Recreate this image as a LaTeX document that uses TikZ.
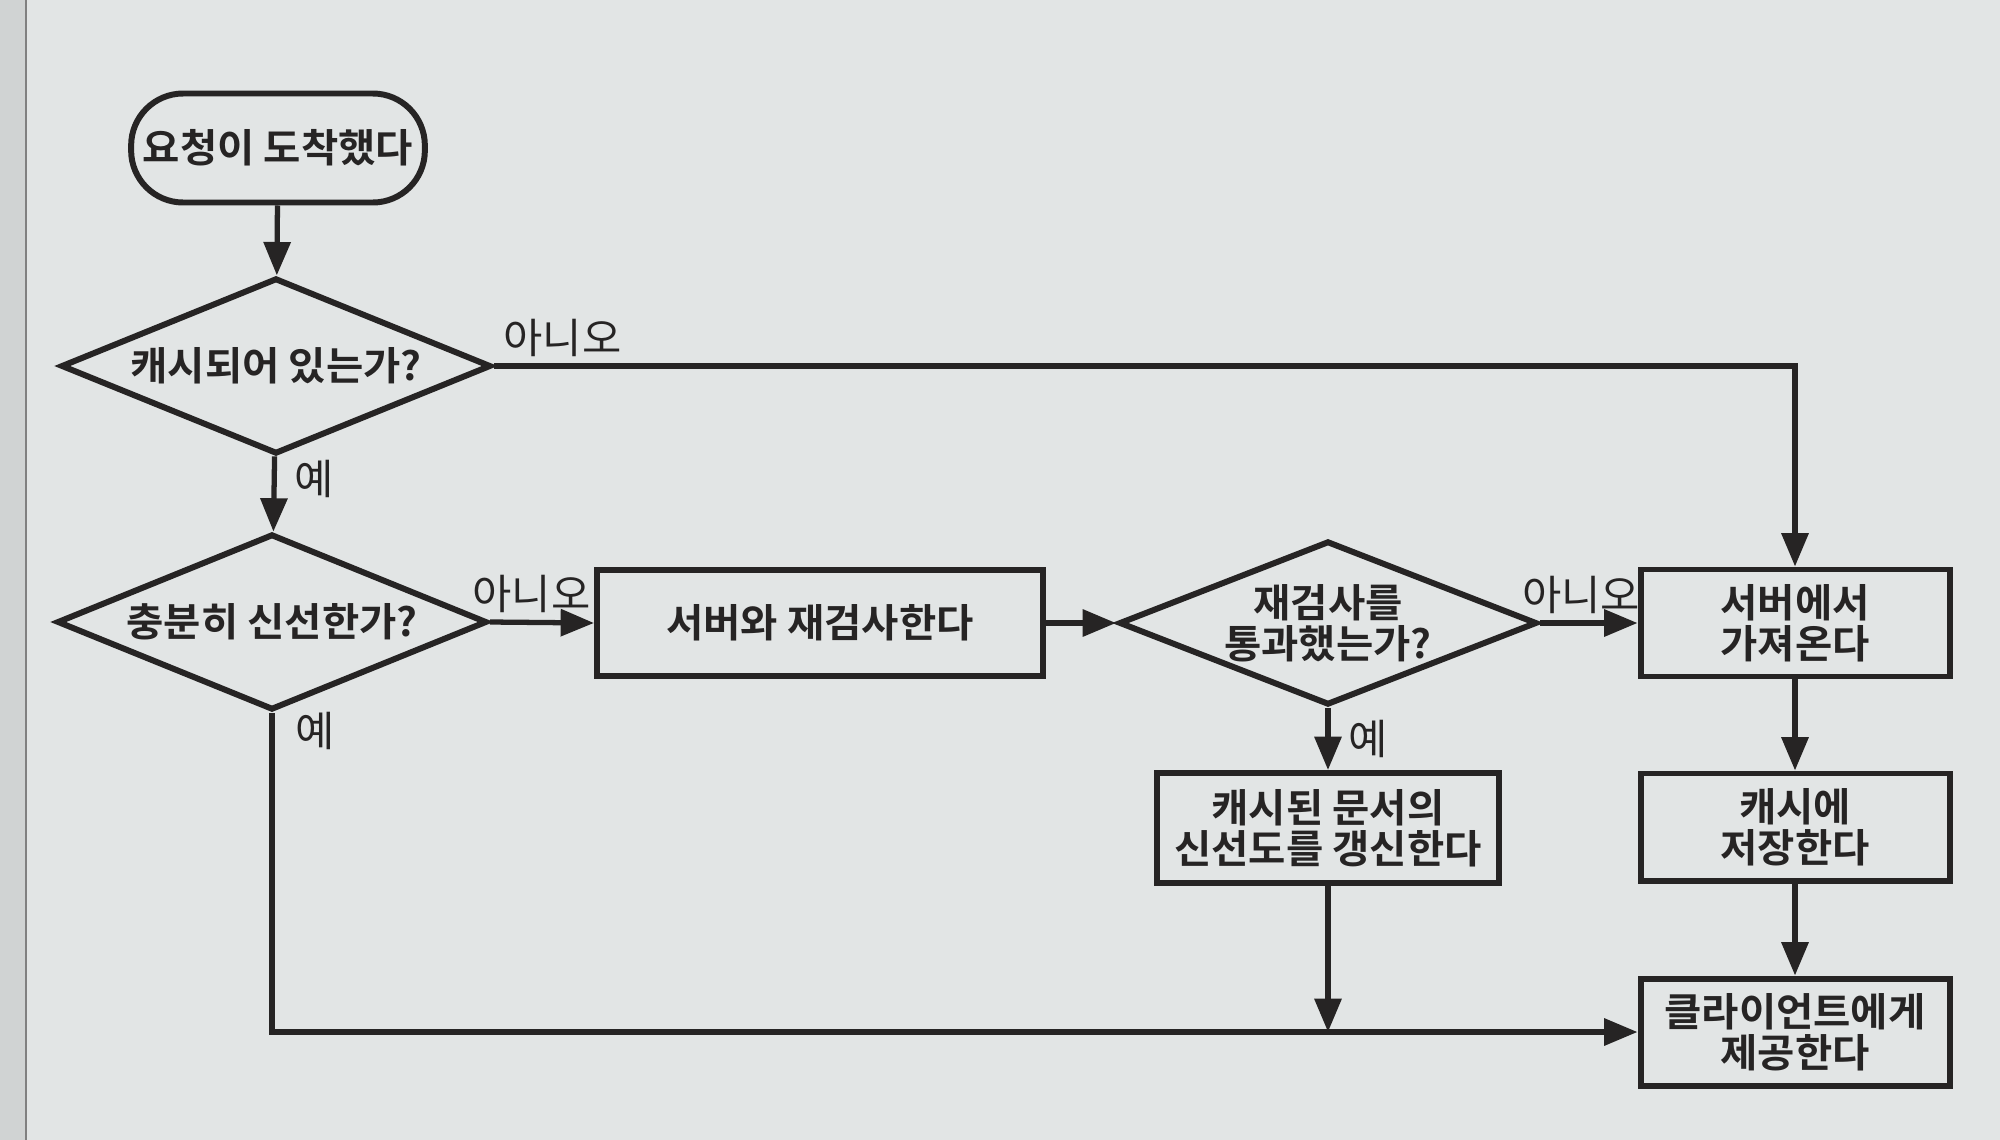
\documentclass[tikz,border=0pt]{standalone}
\usepackage{fontspec}
\setmainfont{Noto Sans CJK KR}[FakeStretch=1.03, BoldFont={Noto Sans CJK KR Bold}]
\usetikzlibrary{shapes.geometric,arrows.meta}

\definecolor{paper}{RGB}{226,229,229}
\definecolor{ink}{RGB}{38,36,36}

\begin{document}
\begin{tikzpicture}[
    >={Triangle[length=9.5pt,width=7.5pt]},
    flow/.style={->, line width=1.5pt, draw=ink},
    boxtext/.style={align=center, text=ink, font=\bfseries\fontsize{11.2}{11.7}\selectfont},
    process/.style={boxtext, draw=ink, line width=1.7pt, inner ysep=2pt, minimum width=3.09cm, minimum height=1.07cm},
    decision/.style={diamond, draw=ink, line width=1.7pt, inner sep=0pt, minimum width=4.3cm, minimum height=1.76cm},
    answer/.style={text=ink, font=\fontsize{11.8}{13}\selectfont, inner sep=2pt}
]
    % page
    \fill[paper] (0,0) rectangle (20,-11.4);
    \useasboundingbox (0,0) rectangle (20,-11.4);
    \fill[paper!92!black] (0,0) rectangle (0.26,-11.4);
    \draw[gray, line width=0.6pt] (0.26,0) -- (0.26,-11.4);

    % left column
    \node[boxtext, draw=ink, line width=1.7pt, rounded corners=0.52cm,
          minimum width=2.89cm, minimum height=1.09cm] (request) at (2.78,-1.48) {요청이 도착했다};
    \node[decision, label={[boxtext]center:캐시되어 있는가?}] (cached) at (2.76,-3.66) {};
    \node[decision, label={[boxtext]center:충분히 신선한가?}] (fresh) at (2.72,-6.22) {};

    % middle row
    \node[process, minimum width=4.46cm, minimum height=1.06cm] (revalidate) at (8.20,-6.23) {서버와 재검사한다};
    \node[decision, minimum width=4.18cm, minimum height=1.64cm,
          label={[boxtext]center:재검사를\\통과했는가?}] (passed) at (13.28,-6.23) {};
    \node[process, minimum width=3.42cm, minimum height=1.10cm] (update) at (13.28,-8.28) {캐시된 문서의\\신선도를 갱신한다};

    % right column
    \node[process] (fetch) at (17.95,-6.23) {서버에서\\가져온다};
    \node[process] (store) at (17.95,-8.27) {캐시에\\저장한다};
    \node[process] (serve) at (17.95,-10.32) {클라이언트에게\\제공한다};

    \coordinate (corner) at (fresh.south |- serve.west);
    \coordinate (join) at (update.south |- serve.west);

    % connectors
    \draw[flow] (request) -- (cached);
    \draw[flow] (cached) -- node[answer, right, xshift=3pt, pos=0.3] {예} (fresh);
    \draw[flow] (cached.east) -- node[answer, above right, pos=0] {아니오} (cached.east -| fetch.north) -- (fetch.north);
    \draw[flow] (fresh.east) -- node[answer, above, pos=0.4] {아니오} (revalidate.west);
    \draw[flow] (revalidate.east) -- (passed.west);
    \draw[flow] (passed.east) -- node[answer, above, pos=0.42] {아니오} (fetch.west);
    \draw[flow] (passed.south) -- node[answer, right, xshift=3pt] {예} (update.north);
    \draw[flow] (fresh.south) -- node[answer, anchor=north west, xshift=4pt, yshift=3pt, pos=0] {예} (corner) -- (serve.west);
    \draw[flow] (update.south) -- (join);
    \draw[flow] (fetch) -- (store);
    \draw[flow] (store) -- (serve);
\end{tikzpicture}
\end{document}
